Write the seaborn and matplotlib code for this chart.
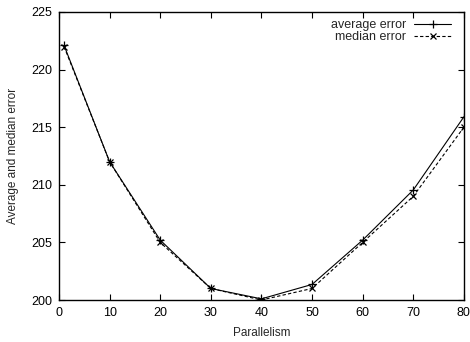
import matplotlib
matplotlib.use("Agg")
import matplotlib.pyplot as plt
import seaborn as sns
import pandas as pd

parallelism = [1, 10, 20, 30, 40, 50, 60, 70, 80]
average_error = [222.1, 212.0, 205.2, 201.0, 200.1, 201.35, 205.2, 209.55, 215.9]
median_error = [222.0, 212.0, 205.0, 201.0, 200.0, 201.0, 205.0, 209.0, 215.0]

sns.set_theme(style="ticks")
plt.rcParams['font.family'] = ['Liberation Sans', 'DejaVu Sans']

fig = plt.figure(figsize=(4.7, 3.42), dpi=100)
ax = fig.add_axes([0.1255, 0.1228, 0.8615, 0.8422])

df = pd.DataFrame({"x": parallelism, "avg": average_error, "med": median_error})
sns.lineplot(data=df, x="x", y="avg", ax=ax, color="black", lw=0.8,
             marker="+", markersize=6, markeredgewidth=0.9, markeredgecolor="black",
             label="average error")
sns.lineplot(data=df, x="x", y="med", ax=ax, color="black", lw=0.8,
             linestyle=(0, (3, 2)), marker="x", markersize=4.5, markeredgewidth=0.9,
             markeredgecolor="black", label="median error")

ax.set_xlim(0, 80)
ax.set_ylim(200, 225)
ax.set_xticks([0, 10, 20, 30, 40, 50, 60, 70, 80])
ax.set_yticks([200, 205, 210, 215, 220, 225])
ax.tick_params(direction="in", length=4, width=0.8, labelsize=9, colors="black",
               top=True, right=True, pad=5)
for s in ax.spines.values():
    s.set_linewidth(1.0)
    s.set_color("black")
ax.set_xlabel("Parallelism", fontsize=8.5, labelpad=6)
ax.set_ylabel("Average and median error", fontsize=8.5, labelpad=9)
leg = ax.legend(loc="upper right", bbox_to_anchor=(0.975, 0.983), frameon=False,
                fontsize=9, markerfirst=False, handlelength=3.0, borderaxespad=0.0,
                labelspacing=0.0, handletextpad=0.6, borderpad=0.2)

fig.savefig("out.png", dpi=100)
